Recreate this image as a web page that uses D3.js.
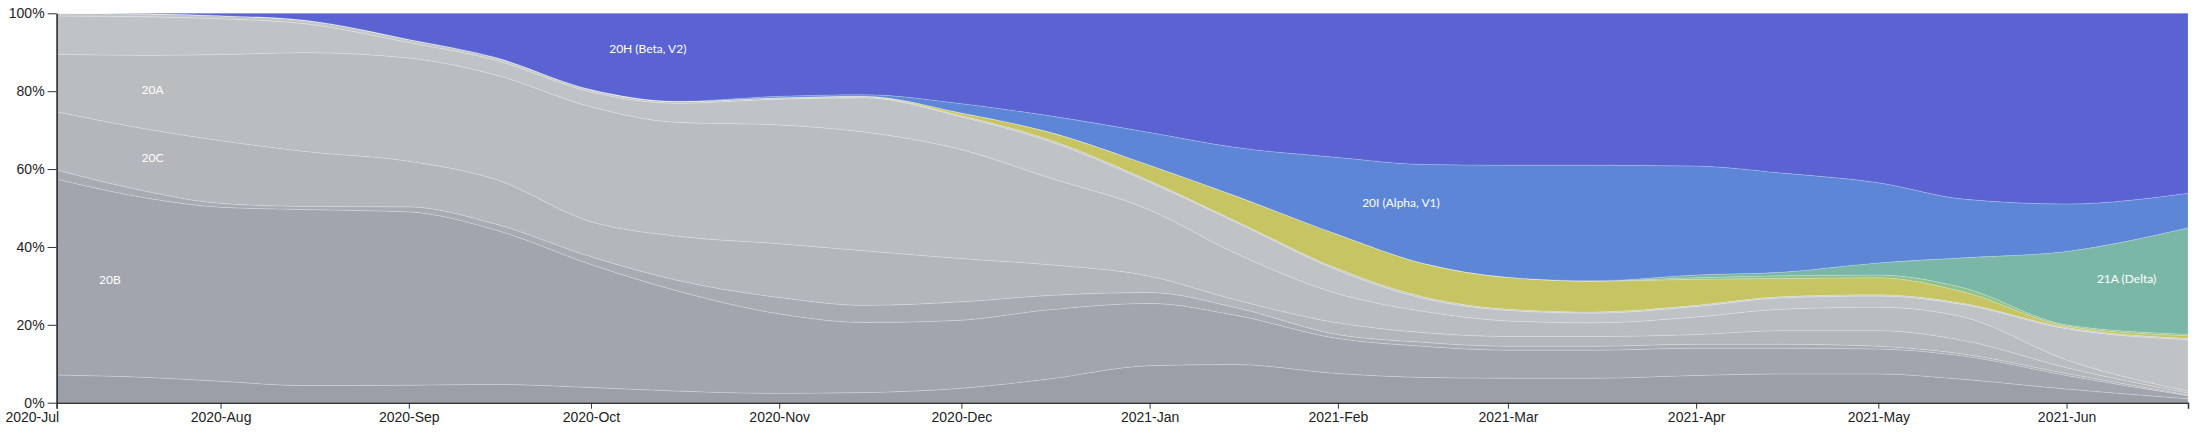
<!DOCTYPE html>
<html>
<head>
<meta charset="utf-8">
<script src="https://cdn.jsdelivr.net/npm/d3@7"></script>
<style>
  html, body { margin: 0; padding: 0; background: #fff; }
  svg { display: block; font-family: Lato, "Open Sans", sans-serif; }
</style>
</head>
<body>
<svg id="chart" width="2210" height="445"></svg>
<script>
// ---- data ----
const dates = ["2020-07-05","2020-07-20","2020-08-01","2020-08-15","2020-09-01","2020-09-15",
  "2020-10-01","2020-10-15","2020-11-01","2020-11-15","2020-12-01","2020-12-15",
  "2021-01-01","2021-01-15","2021-02-01","2021-02-15","2021-03-01","2021-03-15",
  "2021-04-01","2021-04-15","2021-05-01","2021-05-15","2021-06-01","2021-06-21"];

const clades = ["19B","20B","20D","20C","20A","20E","20G","20J","20K","21A (Delta)","20I (Alpha, V1)","20H (Beta, V2)"];

const v19B  = [7.1,6.5,5.5,4.4,4.5,4.7,3.9,3.0,2.4,2.6,3.7,6.0,9.5,9.8,7.5,6.5,6.3,6.3,7.0,7.4,7.4,6.0,3.5,1.0];
const v20B  = [50.3,46.0,44.7,45.2,44.5,39.8,31.6,25.8,20.4,18.0,17.5,17.8,16.0,12.7,9.0,8.0,7.2,7.2,7.0,6.6,6.4,6.0,3.5,0.8];
const v20D  = [2.4,1.7,1.0,0.8,1.3,1.5,2.0,2.7,4.2,4.4,4.7,3.7,2.8,2.0,1.0,1.0,1.0,1.0,1.0,1.0,0.7,0.5,0.5,0.2];
const v20C  = [14.9,16.0,16.1,14.1,11.7,11.5,9.0,11.3,13.8,14.0,11.1,8.0,4.2,2.0,3.0,2.5,2.5,2.5,2.5,3.5,4.0,3.5,1.5,0.5];
const v20A  = [14.8,19.0,22.1,25.4,26.5,26.8,29.5,29.2,30.5,30.5,28.0,22.5,17.0,12.0,7.5,5.5,4.0,3.5,4.5,5.5,6.0,6.0,2.0,0.5];
const v20E  = [9.8,9.9,9.2,7.4,4.0,3.8,3.8,4.9,6.6,8.8,8.4,9.4,7.1,8.0,6.0,3.3,2.7,2.5,2.7,2.9,2.9,3.2,8.0,13.2];
const v20G  = [0.7,0.8,0.8,0.9,0.8,0.7,0.6,0.5,0.4,0.3,0.3,0.4,0.4,0.3,0.4,0.4,0.3,0.3,0.3,0.3,0.3,0.3,0.3,0.3];
const v20J  = [0,0,0,0,0,0,0,0,0,0.1,0.7,1.9,4.0,6.4,8.8,8.6,8.2,7.9,6.7,4.7,4.4,3.0,0.4,0.7];
const v20K  = [0,0,0,0,0,0,0,0,0,0,0,0,0,0,0,0,0,0.1,0.4,0.7,0.7,1.0,0.3,0.4];
const v21A  = [0,0,0,0,0,0,0,0,0,0,0,0,0,0,0,0,0,0,0.7,0.9,3.1,7.7,18.9,27.3];
const v20I  = [0,0,0,0,0,0,0,0,0.35,0.4,2.4,4.1,8.4,12.4,19.8,25.4,28.8,29.7,28.0,25.5,20.6,15.1,12.2,8.9];
const v20H  = [0,0.1,0.6,1.8,6.7,11.2,19.6,22.6,21.3,20.9,23.2,26.2,30.6,34.4,37.0,38.8,39.0,39.0,39.2,41.0,43.5,47.7,49.0,46.2];

const cladeColors = ["#9c9fa7","#a2a5ad","#a8abb2","#b3b6ba","#b9bdc0","#bfc3c5","#c3c6c8",
  "#c7c463","#8fc28a","#7ab7a7","#5d87d6","#5b63d3"];

const tickDates  = ["2020-07-05","2020-08-01","2020-09-01","2020-10-01","2020-11-01","2020-12-01",
  "2021-01-01","2021-02-01","2021-03-01","2021-04-01","2021-05-01","2021-06-01"];
const tickLabels = ["2020-Jul","2020-Aug","2020-Sep","2020-Oct","2020-Nov","2020-Dec",
  "2021-Jan","2021-Feb","2021-Mar","2021-Apr","2021-May","2021-Jun"];
const yTicks = [0, 0.2, 0.4, 0.6, 0.8, 1.0];

// label anchors: clade, date, share
const labelNames  = ["20B","20C","20A","20H (Beta, V2)","20I (Alpha, V1)","21A (Delta)"];
const labelDates  = ["2020-07-12","2020-07-19","2020-07-19","2020-10-04","2021-02-05","2021-06-06"];
const labelShares = [0.315, 0.628, 0.803, 0.908, 0.514, 0.317];

// ---- build ----
const parse = d3.timeParse("%Y-%m-%d");
const seriesValues = [v19B,v20B,v20D,v20C,v20A,v20E,v20G,v20J,v20K,v21A,v20I,v20H];
const table = dates.map((d, i) => {
  const row = { date: parse(d) };
  clades.forEach((c, k) => row[c] = seriesValues[k][i]);
  return row;
});

const margin = { left: 56.6, right: 22, top: 13.3, bottom: 42.3 };
const W = 2210, H = 445;
const svg = d3.select("#chart");

const x = d3.scaleTime()
  .domain([parse("2020-07-05"), parse("2021-06-21")])
  .range([margin.left, W - margin.right]);
const y = d3.scaleLinear().domain([0, 1]).range([H - margin.bottom, margin.top]);

const stack = d3.stack().keys(clades).offset(d3.stackOffsetExpand).order(d3.stackOrderNone);
const layers = stack(table);

const area = d3.area()
  .x(d => x(d.data.date))
  .y0(d => y(d[0]))
  .y1(d => y(d[1]))
  .curve(d3.curveMonotoneX);

svg.append("g").selectAll("path")
  .data(layers)
  .join("path")
  .attr("d", area)
  .attr("fill", (d, i) => cladeColors[i])
  .attr("stroke", "rgba(255,255,255,0.3)")
  .attr("stroke-width", 0.6);

// labels
svg.append("g").selectAll("text")
  .data(labelNames)
  .join("text")
  .attr("x", (d, i) => x(parse(labelDates[i])))
  .attr("y", (d, i) => y(labelShares[i]))
  .attr("dy", "0.35em")
  .attr("fill", "#ffffff")
  .style("font-size", "12px")
  .text(d => d);

// axes
const xAxis = d3.axisBottom(x)
  .tickValues(tickDates.map(parse))
  .tickFormat((d, i) => tickLabels[i])
  .tickSize(6)
  .tickSizeOuter(6);
const gx = svg.append("g")
  .attr("transform", `translate(0,${H - margin.bottom})`)
  .call(xAxis);
gx.selectAll("text").style("font-size", "14px").attr("fill", "#222");
gx.selectAll("text").filter((d, i) => i === 0).attr("text-anchor", "end").attr("dx", "2");
gx.select(".domain").attr("stroke", "#333").attr("stroke-width", 1.5);
gx.selectAll(".tick line").attr("stroke", "#333");

const yAxis = d3.axisLeft(y)
  .tickValues(yTicks)
  .tickFormat(d3.format(".0%"))
  .tickSize(9)
  .tickSizeOuter(0)
  .tickPadding(3);
const gy = svg.append("g")
  .attr("transform", `translate(${margin.left},0)`)
  .call(yAxis);
gy.selectAll("text").style("font-size", "14px").attr("fill", "#222");
gy.select(".domain").attr("stroke", "#222").attr("stroke-width", 1.5);
gy.selectAll(".tick line").attr("stroke", "#333");
</script>
</body>
</html>
